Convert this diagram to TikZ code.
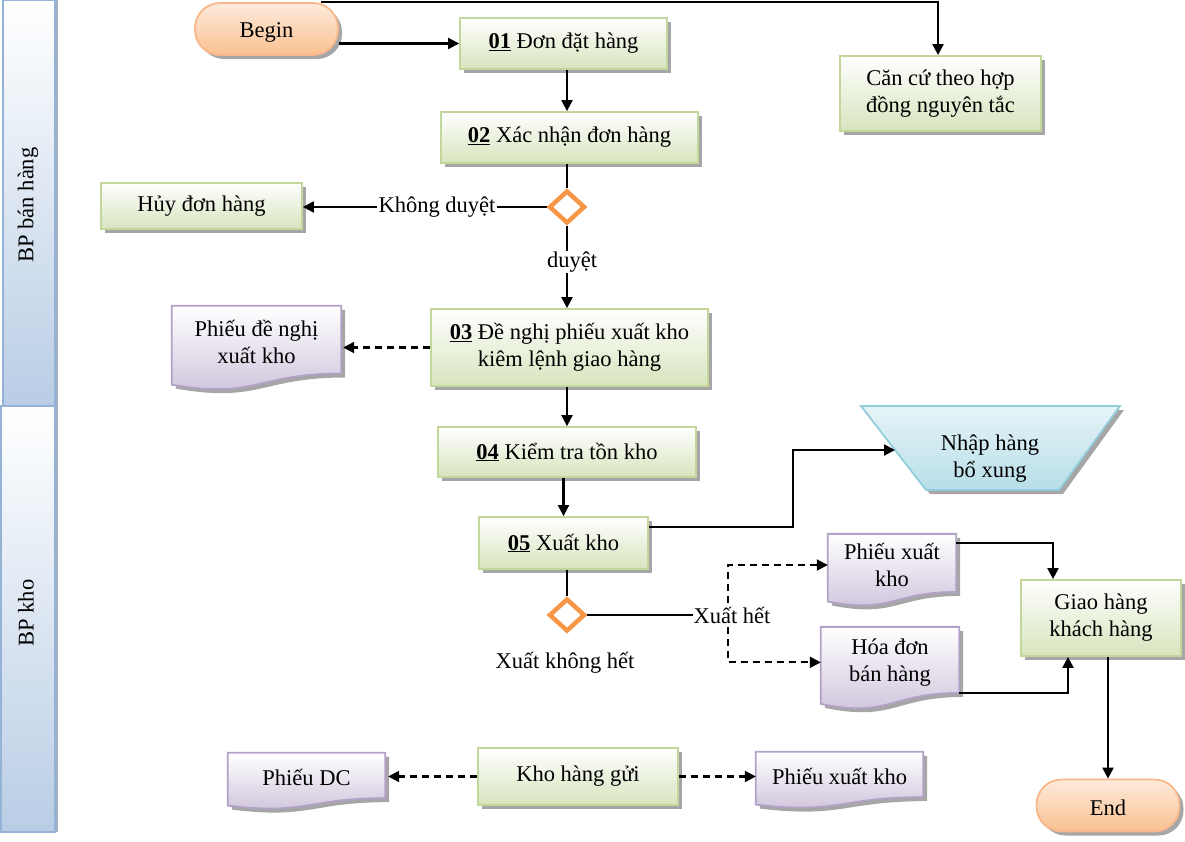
\documentclass[tikz,border=0pt]{standalone}
\usepackage{fontspec}
\setmainfont{Liberation Serif}
\usetikzlibrary{arrows.meta,shapes.geometric,shadows,backgrounds,calc}
\definecolor{grnB}{HTML}{D7E4BD}
\definecolor{grnD}{HTML}{C3D69B}
\definecolor{purB}{HTML}{CCC1DA}
\definecolor{purD}{HTML}{B3A2C7}
\definecolor{orB}{HTML}{FAC090}
\definecolor{orT}{HTML}{FDEBDC}
\definecolor{orD}{HTML}{F8B88B}
\definecolor{bluB}{HTML}{B7DEE8}
\definecolor{bluT}{HTML}{E6F4F8}
\definecolor{bluD}{HTML}{93CDDD}
\definecolor{laneB}{HTML}{B9CDE5}
\definecolor{laneD}{HTML}{95B3D7}
\definecolor{dia}{HTML}{F79646}
\newcommand{\docp}[2]{\path[#1] let \p1=(#2.north west), \p2=(#2.south east), \n1={(\y1-\y2)/0.86} in
  (\x1,\y1) -- (\x2,\y1) -- (\x2,\y1-0.802*\n1)
  .. controls (\x1/2+\x2/2,\y1-0.802*\n1) and (\x1/2+\x2/2,\y1-1.1075*\n1) ..
  (\x1,\y1-0.934*\n1) -- cycle;}
\begin{document}
\begin{tikzpicture}[x=1pt,y=-1pt,
  every node/.style={font=\fontsize{22.5}{27}\selectfont},
  shad/.style={drop shadow={shadow xshift=4pt,shadow yshift=-4pt,fill=black!35,opacity=1}},
  box/.style={rectangle, draw=grnD, line width=1.8pt, top color=white, bottom color=grnB, shad, align=center, inner sep=0pt},
  term/.style={rectangle, rounded corners=25pt, draw=orD, line width=1.8pt, top color=orT, bottom color=orB, shad, minimum width=143pt, minimum height=52pt, inner sep=0pt, text depth=0pt},
  docn/.style={rectangle, inner sep=0pt, align=center},
  dec/.style={diamond, draw=dia, line width=4.5pt, fill=white, minimum width=36pt, minimum height=33pt, inner sep=0pt},
  lbl/.style={inner sep=1pt},
  ln/.style={line width=2.1pt},
  arr/.style={line width=2.1pt, -{Triangle[length=11pt,width=11pt]}},
  dsh/.style={dash pattern=on 7pt off 5pt},
  docfill/.style={draw=purD, line width=1.8pt, top color=white, bottom color=purB},
  docshadow/.style={fill=black!35, transform canvas={xshift=4pt,yshift=-4pt}},
  lane/.style={draw=laneD, line width=2.5pt, top color=white, bottom color=laneB}
]
\useasboundingbox (0,0) rectangle (1185,841);

% nodes
\node[term, text height=17pt] (begin) at (266.5,29) {Begin};
\node[box, minimum width=207pt, minimum height=51pt] (n01) at (563.5,43.5) {\textbf{\underline{01}} Đơn đặt hàng};
\node[box, minimum width=201pt, minimum height=75pt] (cancu) at (940.5,93.5) {Căn cứ theo hợp\\đồng nguyên tắc};
\node[box, minimum width=257pt, minimum height=51pt] (n02) at (569.5,137.5) {\textbf{\underline{02}} Xác nhận đơn hàng};
\node[dec] (d1) at (567,207) {};
\node[box, minimum width=201pt, minimum height=46pt] (huy) at (201.5,206) {Hủy đơn hàng};
\node[lbl] (kd) at (437,207) {Không duyệt};
\node[lbl] (dy) at (572,262) {duyệt};
\node[box, minimum width=277pt, minimum height=77pt] (n03) at (569.5,347.5) {\textbf{\underline{03}} Đề nghị phiếu xuất kho\\kiêm lệnh giao hàng};
\node[docn, minimum width=169pt, minimum height=72.2pt] (pdn) at (256.5,342.1) {Phiếu đề nghị\\xuất kho};
\node[box, minimum width=258pt, minimum height=50pt] (n04) at (567,452) {\textbf{\underline{04}} Kiểm tra tồn kho};
\node[box, minimum width=169pt, minimum height=52pt] (n05) at (563.5,543) {\textbf{\underline{05}} Xuất kho};
\node[docn, align=center] (nhap) at (990,459) {Nhập hàng\\bổ xung};
\coordinate (nhin) at (895,450);
\node[dec] (d2) at (567,615) {};
\node[lbl] (xkh) at (565,663) {Xuất không hết};
\node[docn, minimum width=128pt, minimum height=61.9pt] (pxk1) at (892,565) {Phiếu xuất\\kho};
\node[docn, minimum width=138pt, minimum height=70.5pt] (hoadon) at (890,662.3) {Hóa đơn\\bán hàng};
\node[box, minimum width=160pt, minimum height=76pt] (giao) at (1101,618) {Giao hàng\\khách hàng};
\node[term, text height=20pt] (endn) at (1108,805.5) {End};
\node[box, minimum width=200pt, minimum height=57pt] (khg) at (578,776.5) {Kho hàng gửi};
\node[docn, minimum width=157pt, minimum height=48.2pt] (pdc) at (306.5,777.1) {Phiếu DC};
\node[docn, minimum width=167pt, minimum height=48.2pt] (pxk2) at (839.5,776.1) {Phiếu xuất kho};
\node[rotate=90] (l1) at (28,205) {BP bán hàng};
\node[rotate=90] (l2) at (26,613) {BP kho};

% background shapes
\begin{pgfonlayer}{background}
  \path[fill=laneD!80!black!70, transform canvas={xshift=3pt,yshift=0pt}] (3,0) rectangle (55,832);
  \path[lane] (3,0) rectangle (55,406);
  \path[lane] (1,406) rectangle (55,832);
  \docp{docshadow}{pdn}\docp{docfill}{pdn}
  \docp{docshadow}{pxk1}\docp{docfill}{pxk1}
  \docp{docshadow}{hoadon}\docp{docfill}{hoadon}
  \docp{docshadow}{pdc}\docp{docfill}{pdc}
  \docp{docshadow}{pxk2}\docp{docfill}{pxk2}
  \path[fill=black!35, transform canvas={xshift=4pt,yshift=-4pt}] (861,406) -- (1120,406) -- (1059,490) -- (926,490) -- cycle;
  \path[draw=bluD, line width=1.8pt, top color=bluT, bottom color=bluB] (861,406) -- (1120,406) -- (1059,490) -- (926,490) -- cycle;
\end{pgfonlayer}

% connectors
\draw[arr] (begin.east |- n01.west) -- (n01.west);
\draw[arr] ($(begin.north east)+(-18,0)$) -| ($(cancu.north)+(-2.5,0)$);
\draw[arr] (d1 |- n01.south) -- (d1 |- n02.north);
\draw[ln] (d1 |- n02.south) -- (d1.north);
\draw[ln] (d1.west) -- (kd.east);
\draw[arr] (kd.west) -- (kd.west -| huy.east);
\draw[ln] (d1.south) -- (d1 |- dy.north);
\draw[arr] (d1 |- dy.south) -- (d1 |- n03.north);
\draw[arr,dsh] (n03.west) -- ($(n03.west -| pdn.east)+(2,0)$);
\draw[arr] (d1 |- n03.south) -- (d1 |- n04.north);
\draw[arr] (n05.north |- n04.south) -- (n05.north);
\draw[ln] (d2 |- n05.south) -- (d2.north);
\draw[arr] ($(n05.north east)+(0,11)$) -| ($(nhin)+(-102,0)$) -- (nhin);
\coordinate (split) at (728,615);
\draw[arr,dsh] (split) |- (pxk1.west);
\draw[arr,dsh] (split) |- (hoadon.west);
\node[lbl, fill=white, inner sep=0pt] (xh) at (732,615) {Xuất hết};
\draw[ln] (d2.east) -- (xh.west);
\draw[arr] ($(pxk1.north east)+(0,9)$) -| ($(giao.north)+(-48,0)$);
\draw[arr] ($(hoadon.south east)+(0,-5)$) -| ($(giao.south)+(-33,0)$);
\draw[arr] (endn.north |- giao.south) -- (endn.north);
\draw[arr,dsh] (khg.west) -- ($(khg.west -| pdc.east)+(3,0)$);
\draw[arr,dsh] (khg.east) -- (khg.east -| pxk2.west);
\end{tikzpicture}
\end{document}
